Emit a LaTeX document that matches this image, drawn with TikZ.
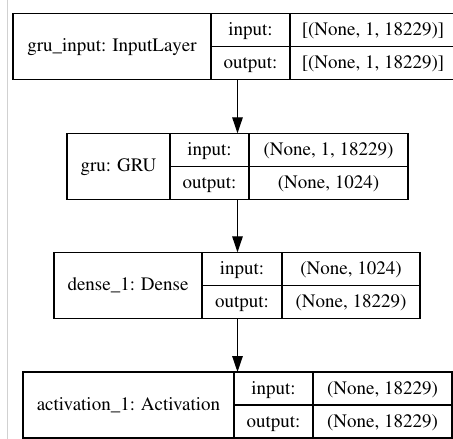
\documentclass[tikz,border=0pt]{standalone}
\usepackage[T1]{fontenc}
\usepackage{times}
\usetikzlibrary{arrows.meta}

\tikzset{
  layerbox/.style={draw, line width=1.3pt, inner sep=0pt, outer sep=0pt, anchor=north west},
  cellrule/.style={line width=1.3pt},
  celltext/.style={inner sep=0pt, anchor=base, font=\fontsize{19}{22}\selectfont},
  flow/.style={line width=1.3pt, -{Triangle[width=10.5pt,length=16pt]}},
  pagerule/.style={draw=black!18, line width=1pt}
}

% #1 name, #2 left, #3 top, #4 first divider, #5 second divider,
% #6 right, #7 layer label, #8 input shape, #9 output shape
\newcommand\drawlayer[9]{%
  \node[layerbox, minimum width={(#6-#2)*1pt}, minimum height=66pt] (#1) at (#2,#3) {};
  \draw[cellrule] (#4,#3) -- (#4,#3+66);
  \draw[cellrule] (#5,#3) -- (#5,#3+66);
  \draw[cellrule] (#4,#3+33) -- (#6,#3+33);
  \node[celltext] (#1-label) at ({(#2+#4)/2},#3+38.5) {#7};
  \node[celltext] (#1-inkey) at ({(#4+#5)/2},#3+22.2) {input:};
  \node[celltext] (#1-outkey) at ({(#4+#5)/2},#3+55.2) {output:};
  \node[celltext] (#1-inval) at ({(#5+#6)/2},#3+22.2) {#8};
  \node[celltext] (#1-outval) at ({(#5+#6)/2},#3+55.2) {#9};
}

\begin{document}
\begin{tikzpicture}[x=1pt,y=-1pt]
  \useasboundingbox (0,0) rectangle (453,439);
  \clip (0,0) rectangle (453,439);
  \fill[white] (0,0) rectangle (453,439);

  % thin page edge on the left
  \draw[pagerule] (7,0) -- (7,439);

  \drawlayer{inlayer}{13}{13.3}{211}{290}{456}{gru\_input: InputLayer}{[(None, 1, 18229)]}{[(None, 1, 18229)]}
  \drawlayer{grulayer}{67}{133.3}{170}{249}{408}{gru: GRU}{(None, 1, 18229)}{(None, 1024)}
  \drawlayer{denselayer}{54}{252.3}{202}{282}{420}{dense\_1: Dense}{(None, 1024)}{(None, 18229)}
  \drawlayer{actlayer}{23}{372}{234}{313}{452}{activation\_1: Activation}{(None, 18229)}{(None, 18229)}

  % data flow between the layers
  \coordinate (flowx) at (237.5,0);
  \draw[flow] (inlayer.south -| flowx) -- (grulayer.north -| flowx);
  \draw[flow] (grulayer.south -| flowx) -- (denselayer.north -| flowx);
  \draw[flow] (denselayer.south -| flowx) -- (actlayer.north -| flowx);
\end{tikzpicture}
\end{document}
